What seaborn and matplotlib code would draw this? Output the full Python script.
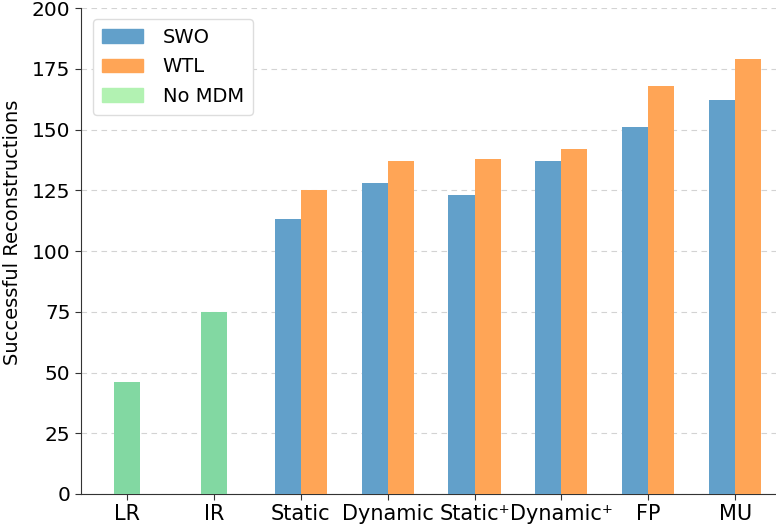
import matplotlib
matplotlib.use("Agg")
import matplotlib.pyplot as plt
import seaborn as sns
import pandas as pd
from matplotlib.patches import Patch

categories = ["LR", "IR", "Static", "Dynamic", "Static\u207a", "Dynamic\u207a", "FP", "MU"]
mdm_categories = ["Static", "Dynamic", "Static\u207a", "Dynamic\u207a", "FP", "MU"]
swo_values = [113, 128, 123, 137, 151, 162]
wtl_values = [125, 137, 138, 142, 168, 179]
nomdm_categories = ["LR", "IR"]
nomdm_values = [46, 75]
y_ticks = [0, 25, 50, 75, 100, 125, 150, 175, 200]

col_swo = "#62a0ca"
col_wtl = "#ffa556"
col_green = "#82d8a2"
col_green_legend = "#b2f2b2"

sns.set_style("ticks")
plt.rcParams["font.family"] = ["DejaVu Sans"]
plt.rcParams["text.color"] = "black"
plt.rcParams["xtick.color"] = "black"
plt.rcParams["ytick.color"] = "black"
plt.rcParams["axes.labelcolor"] = "black"

df_mdm = pd.DataFrame({
    "category": mdm_categories * 2,
    "value": swo_values + wtl_values,
    "method": ["SWO"] * len(mdm_categories) + ["WTL"] * len(mdm_categories),
})
df_no = pd.DataFrame({"category": nomdm_categories, "value": nomdm_values})

fig = plt.figure(figsize=(7.76, 5.31), dpi=100)
ax = fig.add_axes([0.1044, 0.0697, 0.8956, 0.915])

sns.barplot(data=df_mdm, x="category", y="value", hue="method", order=categories,
            hue_order=["SWO", "WTL"], palette=[col_swo, col_wtl], width=0.6,
            saturation=1, ax=ax, legend=False, zorder=3, linewidth=0)
sns.barplot(data=df_no, x="category", y="value", order=categories, color=col_green,
            width=0.3, saturation=1, ax=ax, zorder=3, linewidth=0)

ax.set_xlim(-0.53, 7.47)
ax.set_ylim(0, 200)
ax.set_yticks(y_ticks)
ax.set_xlabel("")
ax.set_ylabel("Successful Reconstructions", fontsize=14)
ax.yaxis.set_label_coords(-0.0855, 0.539)
ax.tick_params(axis="y", labelsize=14.5, length=4, color="#333333")
ax.tick_params(axis="x", labelsize=15, length=4, color="#333333")
ax.yaxis.grid(True, linestyle=(0, (5, 4)), color="#d3d3d3", linewidth=0.8, zorder=0)
ax.set_axisbelow(True)
for s in ["top", "right"]:
    ax.spines[s].set_visible(False)
for s in ["left", "bottom"]:
    ax.spines[s].set_color("#333333")

handles = [Patch(color=col_swo, label="SWO"), Patch(color=col_wtl, label="WTL"),
           Patch(color=col_green_legend, label="No MDM")]
ax.legend(handles=handles, loc="upper left", fontsize=14, handlelength=2.15,
          handleheight=0.7, labelspacing=0.55, handletextpad=1.0,
          borderpad=0.45, framealpha=1, edgecolor="#dddddd",
          bbox_to_anchor=(0.003, 0.998))

fig.savefig("out.png", dpi=100)
